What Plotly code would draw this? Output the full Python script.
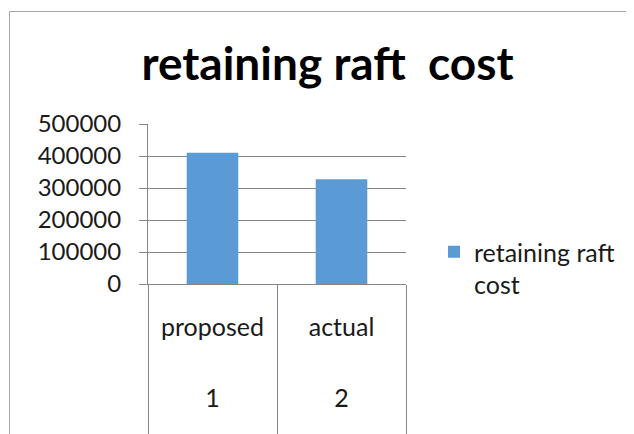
import plotly.graph_objects as go

title_text = "retaining raft\u00a0 cost"
series_name = "retaining raft<br>cost"
outer_labels = ["1", "2"]
inner_labels = ["proposed", "actual"]
values = [410000, 327000]
y_ticks = [0, 100000, 200000, 300000, 400000, 500000]

positions = list(range(len(values)))
boundaries = [p - 0.5 for p in positions] + [positions[-1] + 0.5]
x_range = [boundaries[0], boundaries[-1]]

OFF = 8                      # browser body margin
W, H = 634 - OFF, 434 - OFF  # figure size
L, R, T, B = 148 - OFF, 634 - 406, 124 - OFF, 0
pw, ph = W - L - R, H - T - B

def fx(ref_px):
    return (ref_px - OFF - L) / pw

def fy(ref_py):
    return (H - (ref_py - OFF)) / ph

axis_y = fy(284)
grey = "#868686"
font_family = "Lato, 'Open Sans', sans-serif"
txt = "#1a1a1a"

fig = go.Figure()
fig.add_trace(go.Bar(
    x=positions, y=values, name=series_name,
    marker=dict(color="#5B9BD5", line=dict(width=0)),
    width=0.4, xaxis="x", yaxis="y", hoverinfo="y",
))
for ax in ("x2", "x3"):
    fig.add_trace(go.Scatter(x=positions, y=values, mode="markers",
                             marker=dict(opacity=0), showlegend=False,
                             hoverinfo="skip", xaxis=ax, yaxis="y"))

fig.update_layout(
    width=W, height=H,
    margin=dict(l=L, r=R, t=T, b=B, pad=0, autoexpand=False),
    paper_bgcolor="white",
    plot_bgcolor="white",
    font=dict(family=font_family, size=24, color=txt),
    title=dict(text="<b>" + title_text + "</b>", x=(327.5 - OFF) / W, xanchor="center",
               y=1 - 56 / H, yanchor="middle",
               font=dict(family=font_family, size=46, color="#000000")),
    showlegend=True,
    legend=dict(x=fx(434), xanchor="left", y=fy(229), yanchor="top",
                valign="top", font=dict(size=25, color=txt),
                bgcolor="rgba(0,0,0,0)"),
    xaxis=dict(
        range=x_range, tickmode="array", tickvals=boundaries,
        showticklabels=False, showgrid=False, zeroline=False,
        showline=True, linecolor=grey, linewidth=1,
        ticks="outside", ticklen=150, tickcolor=grey, tickwidth=1,
        automargin=False, fixedrange=True,
    ),
    xaxis2=dict(
        range=x_range, overlaying="x", anchor="free", position=fy(310), side="bottom",
        tickmode="array", tickvals=positions, ticktext=inner_labels,
        ticks="", showline=False, showgrid=False, zeroline=False,
        tickfont=dict(size=25, color=txt), automargin=False,
    ),
    xaxis3=dict(
        range=x_range, overlaying="x", anchor="free", position=fy(381), side="bottom",
        tickmode="array", tickvals=positions, ticktext=outer_labels,
        ticks="", showline=False, showgrid=False, zeroline=False,
        tickfont=dict(size=25, color=txt), automargin=False,
    ),
    yaxis=dict(
        domain=[axis_y, 1],
        range=[0, 500000],
        tickvals=y_ticks,
        tickformat="d",
        showgrid=True, gridcolor=grey, gridwidth=1,
        showline=True, linecolor=grey, linewidth=1,
        zeroline=False,
        ticks="outside", ticklen=8, tickcolor=grey,
        ticklabelstandoff=13,
        tickfont=dict(size=24, color=txt),
        automargin=False,
    ),
    shapes=[dict(type="rect", xref="paper", yref="paper",
                 x0=fx(9.5), x1=fx(660), y0=fy(11.5), y1=fy(460),
                 line=dict(color="#a6a6a6", width=1), fillcolor="rgba(0,0,0,0)",
                 layer="below")],
)

fig.write_html("out.html")
